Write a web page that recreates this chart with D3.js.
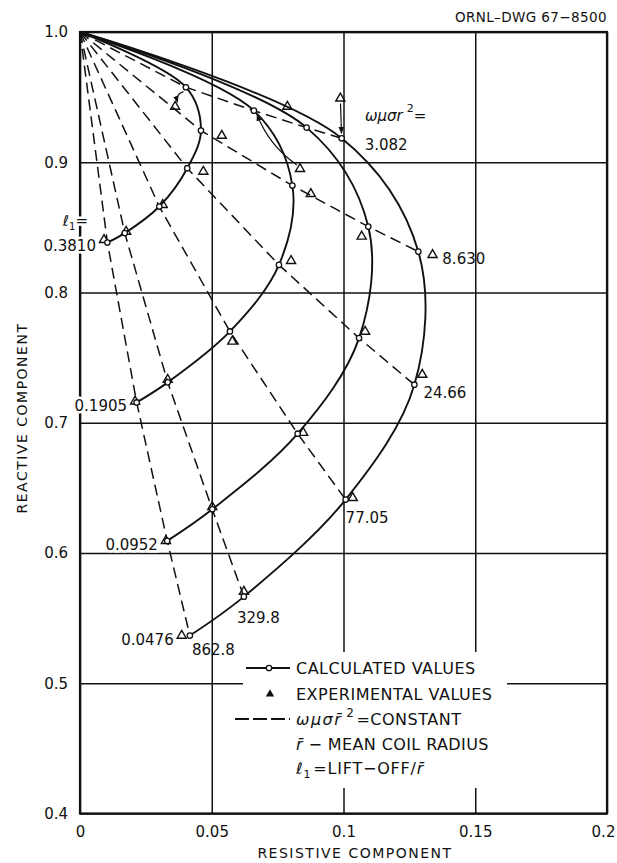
<!DOCTYPE html>
<html>
<head>
<meta charset="utf-8">
<script src="https://cdn.jsdelivr.net/npm/d3@7"></script>
<style>
body { margin: 0; background: #fff; }
text { font-family: "DejaVu Sans", sans-serif; fill: #111; }
</style>
</head>
<body>
<div id="content"></div>
<script>
// axis ticks
var xTicks = [0, 0.05, 0.1, 0.15, 0.2]
var xTickLabels = ['0', '0.05', '0.1', '0.15', '0.2']
var yTicks = [0.4, 0.5, 0.6, 0.7, 0.8, 0.9, 1.0]
var yTickLabels = ['0.4', '0.5', '0.6', '0.7', '0.8', '0.9', '1.0']

// omega*mu*sigma*r^2 values, one per point along each lift-off curve
var omegaValues = ['3.082', '8.630', '24.66', '77.05', '329.8', '862.8']
// lift-off / r values, one per solid curve
var liftOff = ['0.3810', '0.1905', '0.0952', '0.0476']

// common start point (resistive, reactive)
var startPoint = [0, 1.0]

// calculated values [resistive, reactive]
var calc3810 = [[0.0402, 0.9576], [0.0459, 0.9243], [0.0407, 0.8954], [0.0301, 0.8660], [0.0170, 0.8456], [0.0104, 0.8384]]
var calc1905 = [[0.0660, 0.9396], [0.0806, 0.8821], [0.0755, 0.8212], [0.0569, 0.7701], [0.0333, 0.7310], [0.0215, 0.7156]]
var calc0952 = [[0.0860, 0.9266], [0.1094, 0.8506], [0.1059, 0.7650], [0.0826, 0.6916], [0.0502, 0.6336], [0.0331, 0.6093]]
var calc0476 = [[0.0993, 0.9184], [0.1284, 0.8314], [0.1269, 0.7292], [0.1008, 0.6410], [0.0622, 0.5665], [0.0417, 0.5366]]

// experimental values [resistive, reactive]
var exp3810 = [[0.0361, 0.9427], [0.0538, 0.9204], [0.0468, 0.8928], [0.0314, 0.8673], [0.0175, 0.8468], [0.0091, 0.8404]]
var exp1905 = [[0.0835, 0.8949], [0.0876, 0.8757], [0.0801, 0.8243], [0.0578, 0.7624], [0.0333, 0.7330], [0.0209, 0.7164]]
var exp0952 = [[0.0787, 0.9427], [0.1069, 0.8430], [0.1082, 0.7700], [0.0847, 0.6923], [0.0502, 0.6353], [0.0326, 0.6093]]
var exp0476 = [[0.0988, 0.9490], [0.1338, 0.8289], [0.1299, 0.7369], [0.1035, 0.6423], [0.0622, 0.5703], [0.0386, 0.5366]]

var calc = [calc3810, calc1905, calc0952, calc0476]
var exper = [exp3810, exp1905, exp0952, exp0476]

var width = 617, height = 863
var margin = {left: 80, right: 10, top: 32, bottom: 49.5}

var svg = d3.select('#content')
    .append('svg')
    .attr('width', width)
    .attr('height', height)

svg.append('defs')
    .append('marker')
    .attr('id', 'arrow')
    .attr('viewBox', '0 -5 10 10')
    .attr('refX', 9)
    .attr('refY', 0)
    .attr('markerUnits', 'userSpaceOnUse')
    .attr('markerWidth', 7)
    .attr('markerHeight', 7)
    .attr('orient', 'auto')
    .append('path')
    .attr('fill', '#111')
    .attr('d', 'M0,-4L10,0L0,4Z')

var x = d3.scaleLinear().domain([0, 0.2]).range([margin.left, width - margin.right])
var y = d3.scaleLinear().domain([0.4, 1.0]).range([height - margin.bottom, margin.top])
var plotW = x(0.2) - x(0), plotH = y(0.4) - y(1.0)

// grid + tick labels
var xAxis = svg.append('g')
    .attr('transform', `translate(0,${y(0.4)})`)
    .call(d3.axisBottom(x).tickValues(xTicks).tickSize(-plotH).tickPadding(13)
        .tickFormat((d, i) => xTickLabels[i]))
var yAxis = svg.append('g')
    .attr('transform', `translate(${x(0)},0)`)
    .call(d3.axisLeft(y).tickValues(yTicks).tickSize(-plotW).tickPadding(12)
        .tickFormat((d, i) => yTickLabels[i]))

;[xAxis, yAxis].forEach(a => {
    a.select('.domain').remove()
    a.selectAll('line').attr('stroke', '#111').attr('stroke-width', 1.5)
    a.selectAll('text').attr('font-size', 15).attr('font-family', '"DejaVu Sans", sans-serif').attr('fill', '#111')
})
// last x label sits at the page edge: pull it in
xAxis.selectAll('.tick text').filter((d, i) => i === xTicks.length - 1).attr('dx', -4)

svg.append('rect')
    .attr('x', x(0)).attr('y', y(1.0))
    .attr('width', plotW).attr('height', plotH)
    .attr('fill', 'none').attr('stroke', '#111').attr('stroke-width', 2.2)

// axis titles
svg.append('text')
    .attr('x', 355).attr('y', 858)
    .attr('text-anchor', 'middle')
    .attr('font-size', 14).attr('letter-spacing', 1.5)
    .text('RESISTIVE COMPONENT')
svg.append('text')
    .attr('transform', 'translate(27,418) rotate(-90)')
    .attr('text-anchor', 'middle')
    .attr('font-size', 14).attr('letter-spacing', 1.5)
    .text('REACTIVE COMPONENT')
svg.append('text')
    .attr('x', 607).attr('y', 22)
    .attr('text-anchor', 'end')
    .attr('font-size', 13.5).attr('letter-spacing', 0.4)
    .text('ORNL\u2013DWG  67\u22128500')

// constant omega*mu*sigma*r^2 lines (dashed)
var dashLine = d3.line().x(d => x(d[0])).y(d => y(d[1]))
svg.append('g')
    .selectAll('path')
    .data(omegaValues.map((w, i) => [startPoint].concat(calc.map(c => c[i]))))
    .join('path')
    .attr('d', dashLine)
    .attr('fill', 'none')
    .attr('stroke', '#111')
    .attr('stroke-width', 1.5)
    .attr('stroke-dasharray', '11,6')

// constant lift-off curves (solid)
var solidLine = d3.line().x(d => x(d[0])).y(d => y(d[1])).curve(d3.curveCatmullRom.alpha(0.5))
svg.append('g')
    .selectAll('path')
    .data(calc.map(c => [startPoint].concat(c)))
    .join('path')
    .attr('d', solidLine)
    .attr('fill', 'none')
    .attr('stroke', '#111')
    .attr('stroke-width', 1.9)

// arrows tying shifted experimental points to their calculated point (3.082 column)
var arrowPairs = [{c: 0, toExp: true, bend: 6}, {c: 1, toExp: false, bend: -10}, {c: 3, toExp: false, bend: 0}]
svg.append('g')
    .selectAll('path')
    .data(arrowPairs)
    .join('path')
    .attr('d', d => {
        var p = [x(calc[d.c][0][0]), y(calc[d.c][0][1])]
        var q = [x(exper[d.c][0][0]), y(exper[d.c][0][1])]
        var a = d.toExp ? p : q, b = d.toExp ? q : p
        var dx = b[0] - a[0], dy = b[1] - a[1], len = Math.hypot(dx, dy)
        var ux = dx / len, uy = dy / len
        var s = [a[0] + ux * 5, a[1] + uy * 5], e = [b[0] - ux * 5, b[1] - uy * 5]
        var m = [(s[0] + e[0]) / 2 - uy * d.bend, (s[1] + e[1]) / 2 + ux * d.bend]
        return `M${s}Q${m} ${e}`
    })
    .attr('fill', 'none')
    .attr('stroke', '#111')
    .attr('stroke-width', 1.2)
    .attr('marker-end', 'url(#arrow)')

// experimental triangles
var tri = d3.symbol(d3.symbolTriangle).size(36)
svg.append('g')
    .selectAll('path')
    .data(exper.flat())
    .join('path')
    .attr('d', tri)
    .attr('transform', d => `translate(${x(d[0])},${y(d[1])})`)
    .attr('fill', 'none')
    .attr('stroke', '#111')
    .attr('stroke-width', 1.4)

// calculated circles
svg.append('g')
    .selectAll('circle')
    .data(calc.flat())
    .join('circle')
    .attr('cx', d => x(d[0]))
    .attr('cy', d => y(d[1]))
    .attr('r', 2.7)
    .attr('fill', '#fff')
    .attr('stroke', '#111')
    .attr('stroke-width', 1.3)

// lift-off labels at the end of each solid curve
var halo = sel => sel.attr('stroke', '#fff').attr('stroke-width', 5).attr('paint-order', 'stroke')
svg.append('g')
    .selectAll('text')
    .data(liftOff)
    .join('text')
    .attr('x', (d, i) => x(exper[i][5][0]) - 8)
    .attr('y', (d, i) => y(calc[i][5][1]) + 9)
    .attr('text-anchor', 'end')
    .attr('font-size', 15)
    .call(halo)
    .text(d => d)

var l1 = svg.append('text')
    .attr('x', 88).attr('y', 226)
    .attr('text-anchor', 'end')
    .attr('font-size', 15)
    .call(halo)
l1.append('tspan').attr('font-style', 'italic').text('\u2113')
l1.append('tspan').attr('font-size', 10).attr('dy', 4).text('1')
l1.append('tspan').attr('dy', -4).text('=')

// omega labels along the outer curve
var omegaOffset = [[23, 12], [24, 12], [9, 13], [0, 23], [-7, 26], [2, 19]]
svg.append('g')
    .selectAll('text')
    .data(omegaValues)
    .join('text')
    .attr('x', (d, i) => x(calc0476[i][0]) + omegaOffset[i][0])
    .attr('y', (d, i) => y(calc0476[i][1]) + omegaOffset[i][1])
    .attr('font-size', 15)
    .text(d => d)

var wl = svg.append('text').attr('x', 365).attr('y', 121).attr('font-size', 15)
wl.append('tspan').attr('font-style', 'italic').text('\u03c9\u03bc\u03c3r')
wl.append('tspan').attr('font-size', 11).attr('dy', -9).attr('dx', 4).text('2')
wl.append('tspan').attr('dy', 9).text('=')

// legend
svg.append('rect')
    .attr('x', 243).attr('y', 652).attr('width', 264).attr('height', 136)
    .attr('fill', '#fff')

var lg = svg.append('g').attr('font-size', 16)
lg.append('line').attr('x1', 246).attr('x2', 290).attr('y1', 668).attr('y2', 668)
    .attr('stroke', '#111').attr('stroke-width', 1.9)
lg.append('circle').attr('cx', 269).attr('cy', 668).attr('r', 2.7)
    .attr('fill', '#fff').attr('stroke', '#111').attr('stroke-width', 1.3)
lg.append('path').attr('d', d3.symbol(d3.symbolTriangle).size(30))
    .attr('transform', 'translate(270,694)').attr('fill', '#111')
lg.append('line').attr('x1', 235).attr('x2', 290).attr('y1', 719).attr('y2', 719)
    .attr('stroke', '#111').attr('stroke-width', 1.9).attr('stroke-dasharray', '14,4')

var legendText = ['CALCULATED  VALUES', 'EXPERIMENTAL  VALUES']
lg.selectAll('text.lt')
    .data(legendText)
    .join('text')
    .attr('class', 'lt')
    .attr('x', 296)
    .attr('y', (d, i) => 674 + i * 25.5)
    .attr('letter-spacing', 0.5)
    .text(d => d)

var t3 = lg.append('text').attr('x', 296).attr('y', 725).attr('letter-spacing', 0.5)
t3.append('tspan').attr('font-style', 'italic').attr('letter-spacing', 1.5).text('\u03c9\u03bc\u03c3r\u0304')
t3.append('tspan').attr('font-size', 12).attr('dy', -8).attr('dx', 4).text('2')
t3.append('tspan').attr('dy', 8).attr('dx', 2).text('=CONSTANT')

var t4 = lg.append('text').attr('x', 296).attr('y', 750).attr('letter-spacing', 0.4)
t4.append('tspan').attr('font-style', 'italic').text('r\u0304')
t4.append('tspan').text(' \u2212 MEAN  COIL  RADIUS')

var t5 = lg.append('text').attr('x', 296).attr('y', 774).attr('letter-spacing', 0.8)
t5.append('tspan').attr('font-style', 'italic').text('\u2113')
t5.append('tspan').attr('font-size', 11).attr('dy', 4).text('1')
t5.append('tspan').attr('dy', -4).attr('dx', 2).text('=LIFT\u2212OFF/')
t5.append('tspan').attr('font-style', 'italic').text('r\u0304')
</script>
</body>
</html>
